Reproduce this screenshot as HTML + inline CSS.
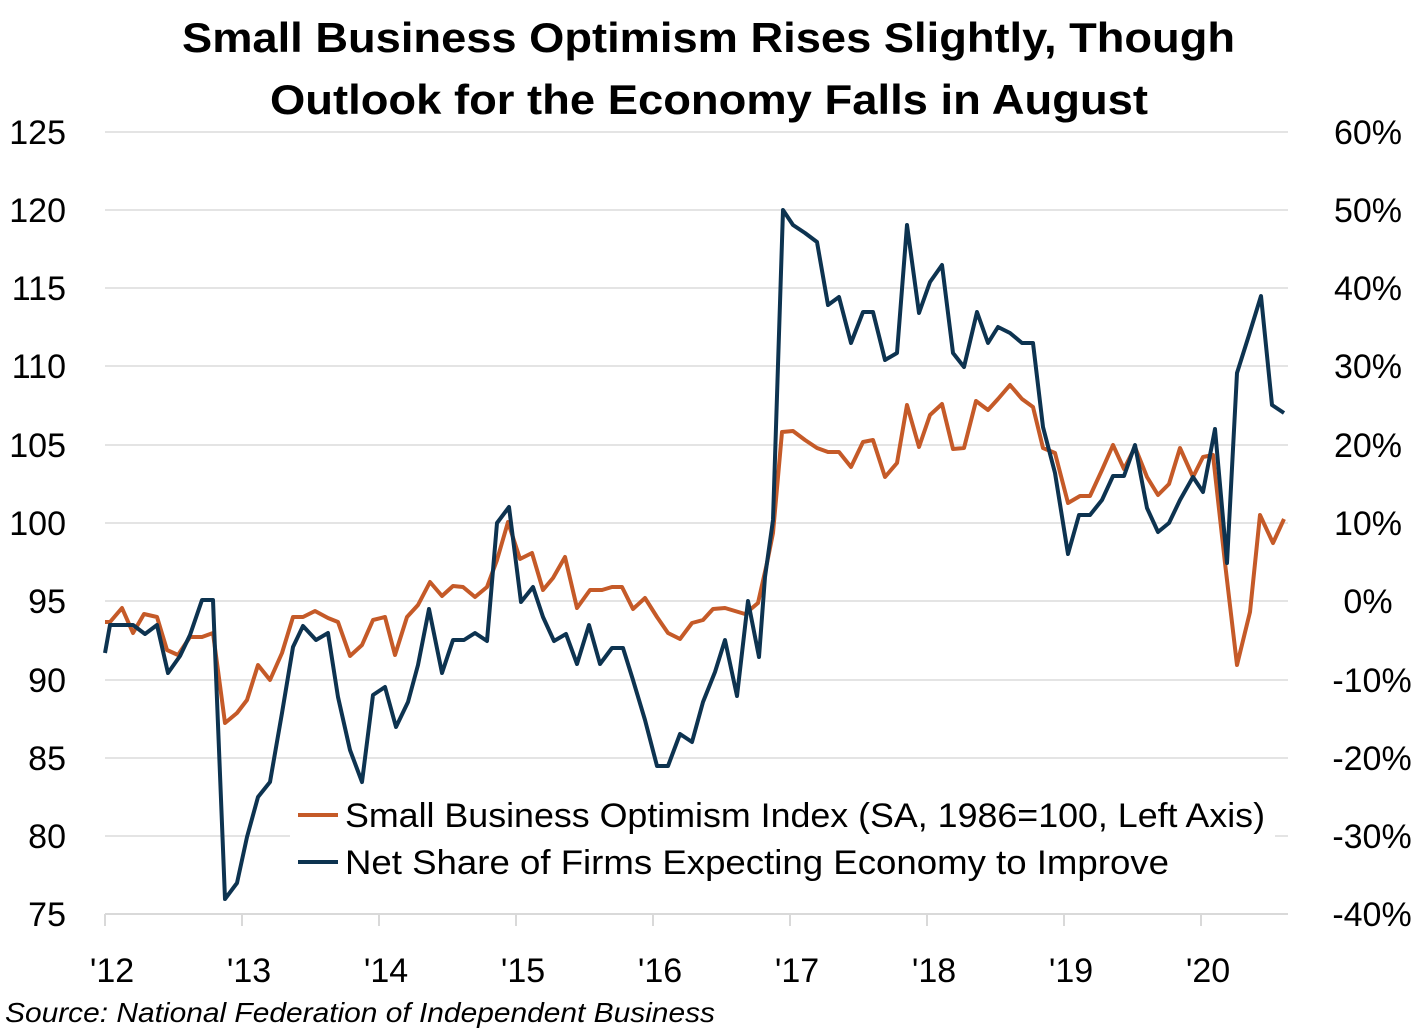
<!DOCTYPE html>
<html><head><meta charset="utf-8"><style>
html,body{margin:0;padding:0;background:#fff}
svg{display:block}
text{font-family:"Liberation Sans",sans-serif;fill:#000}
</style></head><body>
<svg width="1421" height="1032" viewBox="0 0 1421 1032">
<text x="182" y="52" font-size="42" font-weight="bold" textLength="1053" lengthAdjust="spacingAndGlyphs">Small Business Optimism Rises Slightly, Though</text>
<text x="270" y="114" font-size="42" font-weight="bold" textLength="878" lengthAdjust="spacingAndGlyphs">Outlook for the Economy Falls in August</text>
<g stroke="#e4e4e4" stroke-width="2">
<line x1="105" x2="1288" y1="132" y2="132"/><line x1="105" x2="1288" y1="210" y2="210"/>
<line x1="105" x2="1288" y1="288" y2="288"/><line x1="105" x2="1288" y1="366" y2="366"/>
<line x1="105" x2="1288" y1="445" y2="445"/><line x1="105" x2="1288" y1="523" y2="523"/>
<line x1="105" x2="1288" y1="601" y2="601"/><line x1="105" x2="1288" y1="680" y2="680"/>
<line x1="105" x2="1288" y1="758" y2="758"/><line x1="105" x2="1288" y1="836" y2="836"/>
</g>
<g stroke="#d9d9d9" stroke-width="2">
<line x1="105" x2="1288" y1="914" y2="914"/>
<line x1="105" x2="105" y1="914" y2="926"/><line x1="242" x2="242" y1="914" y2="926"/>
<line x1="379" x2="379" y1="914" y2="926"/><line x1="516" x2="516" y1="914" y2="926"/>
<line x1="653" x2="653" y1="914" y2="926"/><line x1="790" x2="790" y1="914" y2="926"/>
<line x1="927" x2="927" y1="914" y2="926"/><line x1="1064" x2="1064" y1="914" y2="926"/>
<line x1="1201" x2="1201" y1="914" y2="926"/>
</g>
<g font-size="34" text-anchor="end">
<text x="66" y="144">125</text><text x="66" y="222">120</text><text x="66" y="300">115</text>
<text x="66" y="378">110</text><text x="66" y="457">105</text><text x="66" y="535">100</text>
<text x="66" y="613">95</text><text x="66" y="692">90</text><text x="66" y="770">85</text>
<text x="66" y="848">80</text><text x="66" y="926">75</text>
</g>
<g font-size="34" text-anchor="middle">
<text x="1368" y="144">60%</text><text x="1368" y="222">50%</text><text x="1368" y="300">40%</text>
<text x="1368" y="378">30%</text><text x="1368" y="457">20%</text><text x="1368" y="535">10%</text>
<text x="1368" y="613">0%</text><text x="1372" y="692">-10%</text><text x="1372" y="770">-20%</text>
<text x="1372" y="848">-30%</text><text x="1372" y="926">-40%</text>
</g>
<g font-size="34" text-anchor="middle">
<text x="112" y="982">'12</text><text x="249" y="982">'13</text><text x="386" y="982">'14</text>
<text x="523" y="982">'15</text><text x="660" y="982">'16</text><text x="797" y="982">'17</text>
<text x="934" y="982">'18</text><text x="1071" y="982">'19</text><text x="1208" y="982">'20</text>
</g>
<polyline fill="none" stroke="#c55a28" stroke-width="4" stroke-linejoin="round" points="105,622 110,622 122,608 133,633 144,614 157,617 167,650 178,655 190,637 202,637 213,633 225,723 237,713 247,700 258,665 270,680 282,653 293,617 303,617 315,611 328,618 338,622 350,656 362,645 373,620 385,617 395,655 407,617 418,605 430,582 442,596 453,586 463,587 475,597 487,587 497,560 508,522 520,559 532,553 543,590 553,578 565,557 577,608 590,590 602,590 612,587 622,587 633,609 645,598 657,617 668,633 680,639 692,623 703,620 713,609 725,608 735,611 745,614 758,603 767,563 773,533 782,432 793,431 805,440 817,448 828,452 839,452 851,467 863,442 873,440 885,477 897,463 907,405 919,447 930,415 942,404 953,449 964,448 976,401 988,410 998,399 1010,385 1022,399 1033,407 1043,448 1055,453 1068,503 1080,496 1090,496 1102,470 1113,445 1124,469 1135,447 1147,477 1158,495 1169,484 1180,448 1193,477 1203,457 1213,455 1225,563 1237,665 1250,612 1260,515 1273,543 1284,519"/>
<polyline fill="none" stroke="#0d3350" stroke-width="4" stroke-linejoin="round" points="105,653 110,625 133,625 145,634 157,625 168,673 180,656 190,635 202,600 213,600 225,899 237,883 247,837 258,797 270,782 282,713 293,647 303,626 316,640 328,633 338,697 350,750 362,782 373,695 385,687 396,727 408,702 418,665 429,609 442,673 453,640 464,640 475,633 487,641 497,523 509,507 521,602 533,587 543,617 554,641 566,634 577,664 589,625 600,664 612,648 623,648 633,680 645,720 657,766 668,766 680,734 692,742 703,702 715,672 725,640 737,696 748,601 759,657 765,577 773,520 783,210 793,225 805,233 817,242 828,305 839,297 851,343 863,312 873,312 885,360 897,353 907,225 919,313 930,282 942,265 953,353 964,367 977,312 988,343 998,327 1010,333 1022,343 1033,343 1043,427 1055,473 1068,554 1079,515 1090,515 1102,500 1113,476 1124,476 1135,445 1147,508 1158,532 1169,523 1180,500 1193,477 1203,492 1215,429 1227,563 1237,373 1249,335 1261,296 1272,405 1284,413"/>
<rect x="290" y="790" width="985" height="96" fill="#fff"/>
<line x1="298" x2="338" y1="815" y2="815" stroke="#c55a28" stroke-width="4"/>
<line x1="298" x2="338" y1="862" y2="862" stroke="#0d3350" stroke-width="4"/>
<text x="345" y="827" font-size="34" textLength="920" lengthAdjust="spacingAndGlyphs">Small Business Optimism Index (SA, 1986=100, Left Axis)</text>
<text x="345" y="874" font-size="34" textLength="824" lengthAdjust="spacingAndGlyphs">Net Share of Firms Expecting Economy to Improve</text>
<text x="5" y="1022" font-size="28" font-style="italic" textLength="710" lengthAdjust="spacingAndGlyphs">Source: National Federation of Independent Business</text>
</svg>
</body></html>
